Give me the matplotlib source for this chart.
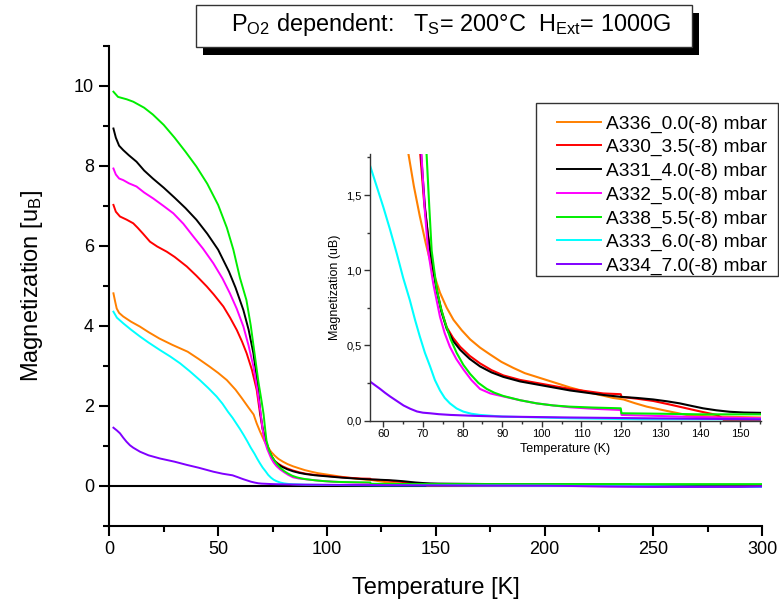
import matplotlib
matplotlib.use("Agg")
import matplotlib.pyplot as plt
from matplotlib.patches import Rectangle
from matplotlib.ticker import MultipleLocator, FixedLocator, FixedFormatter

plt.rcParams['font.family'] = ['Liberation Sans', 'DejaVu Sans']
plt.rcParams['mathtext.fontset'] = 'custom'
plt.rcParams['mathtext.rm'] = 'Liberation Sans'
plt.rcParams['mathtext.it'] = 'Liberation Sans'

# ---- measured M(T) curves (T in K, M in uB) ----
labels = ["A336_0.0(-8) mbar", "A330_3.5(-8) mbar", "A331_4.0(-8) mbar",
          "A332_5.0(-8) mbar", "A338_5.5(-8) mbar", "A333_6.0(-8) mbar",
          "A334_7.0(-8) mbar"]
colors = ["#FF8000", "#FF0000", "#000000", "#FF00FF", "#00EE00", "#00FFFF", "#8000FF"]

t_a336 = [1.9, 2.7, 3.4, 4.5, 6.4, 10, 14, 18, 23, 29, 36, 41, 46, 50, 54, 58, 61, 64,
          66.3, 67.7, 69.2, 70.7, 72.2, 74.3, 76, 77.7, 79.8, 81.9, 84.4, 86.9, 89.8,
          92.8, 95.7, 98.7, 102.9, 107.1, 111.3, 115.5, 118, 120.6, 123.5, 126.5, 129.5,
          132.4, 136.5, 140, 145, 155, 180, 220, 260, 300]
m_a336 = [4.81, 4.60, 4.43, 4.32, 4.23, 4.10, 3.98, 3.84, 3.68, 3.52, 3.35, 3.17, 2.98,
          2.82, 2.64, 2.40, 2.18, 1.95, 1.78, 1.56, 1.36, 1.18, 1.02, 0.85, 0.75, 0.67,
          0.60, 0.54, 0.485, 0.44, 0.39, 0.35, 0.315, 0.29, 0.255, 0.22, 0.19, 0.165,
          0.15, 0.14, 0.115, 0.092, 0.075, 0.059, 0.037, 0.03, 0.026, 0.02, 0.01, 0.0,
          0.0, 0.0]

t_a330 = [1.9, 3, 4.9, 8, 11, 13, 15.5, 18.7, 22, 26.4, 30, 35.6, 40, 44.8, 48, 52.4,
          55.5, 58.6, 61, 63.1, 65.5, 67.7, 69.3, 70.3, 71.2, 72.2, 73.5, 74.7, 76,
          77.6, 79.4, 81.8, 84.4, 87.3, 90.3, 94.5, 98.7, 102.9, 107.1, 111.3, 115.5,
          119.9, 120.1, 124, 128.1, 132, 136.5, 140, 144.1, 145.3, 146, 160, 200, 250, 300]
m_a330 = [7.02, 6.85, 6.73, 6.65, 6.56, 6.45, 6.30, 6.10, 5.98, 5.85, 5.72, 5.48, 5.25,
          4.98, 4.78, 4.48, 4.20, 3.89, 3.60, 3.31, 2.90, 2.40, 1.78, 1.45, 1.25, 1.07,
          0.87, 0.73, 0.62, 0.55, 0.49, 0.43, 0.38, 0.335, 0.30, 0.27, 0.25, 0.23, 0.21,
          0.195, 0.18, 0.175, 0.157, 0.145, 0.13, 0.108, 0.081, 0.06, 0.037, 0.02, 0.0,
          0.0, 0.0, -0.01, 0.0]

t_a331 = [1.9, 3, 4.5, 6.4, 9, 12.5, 16, 20, 25, 30, 35, 40, 45, 50, 55, 58, 61.6, 64,
          66.2, 68, 69.5, 70.5, 71.3, 72.2, 73.5, 74.7, 76, 77.6, 79.4, 81.8, 84.4, 87.3,
          90.3, 94.5, 98.7, 102.9, 107.1, 111.3, 115.5, 119.7, 124, 128.1, 131.5, 134.8,
          137.8, 140.7, 144, 147.4, 151, 155, 180, 239.5, 240.5, 270, 300]
m_a331 = [8.93, 8.70, 8.50, 8.39, 8.26, 8.10, 7.88, 7.68, 7.45, 7.20, 6.94, 6.65, 6.30,
          5.90, 5.35, 4.95, 4.39, 3.90, 3.31, 2.60, 1.78, 1.42, 1.22, 1.07, 0.86, 0.72,
          0.61, 0.53, 0.47, 0.41, 0.36, 0.32, 0.29, 0.26, 0.24, 0.22, 0.20, 0.185, 0.17,
          0.158, 0.15, 0.14, 0.128, 0.114, 0.097, 0.081, 0.068, 0.058, 0.053, 0.051,
          0.04, 0.03, 0.02, 0.02, 0.02]

t_a332 = [1.9, 3, 4.5, 6.4, 9, 12.5, 16, 20.2, 25, 29.4, 34, 38.6, 43, 47.8, 52, 55.4,
          58.5, 61.6, 64, 66.2, 68, 69.6, 70.4, 71.3, 72.6, 74.3, 75.5, 76.8, 78.4, 80.2,
          82.2, 84.4, 87, 90.3, 94.5, 98.7, 102.9, 107.1, 113, 119.9, 120.1, 127, 135,
          145, 155, 200, 230, 270, 300]
m_a332 = [7.93, 7.78, 7.68, 7.64, 7.56, 7.48, 7.33, 7.18, 6.99, 6.81, 6.55, 6.23, 5.93,
          5.56, 5.18, 4.81, 4.43, 3.98, 3.50, 2.98, 2.40, 1.78, 1.42, 1.13, 0.91, 0.69,
          0.58, 0.49, 0.41, 0.34, 0.27, 0.21, 0.18, 0.16, 0.135, 0.114, 0.10, 0.088,
          0.078, 0.07, 0.037, 0.032, 0.026, 0.02, 0.015, 0.0, -0.02, -0.03, -0.02]

t_a338 = [1.9, 4, 8, 11, 16, 20, 25, 30, 35, 40, 45, 50, 54, 57, 60, 63, 65, 67, 68.5,
          70, 70.9, 71.6, 72.2, 73.5, 74.5, 75.6, 77, 78.5, 80.2, 81.9, 84, 86.1, 88,
          90.3, 94.5, 98.7, 102.9, 107.1, 113, 119.9, 120.1, 130, 140, 155, 200, 250, 300]
m_a338 = [9.85, 9.72, 9.66, 9.60, 9.45, 9.28, 9.02, 8.70, 8.35, 7.98, 7.55, 7.02, 6.45,
          5.90, 5.20, 4.64, 4.00, 3.20, 2.60, 2.10, 1.78, 1.42, 1.13, 0.87, 0.75, 0.65,
          0.54, 0.45, 0.37, 0.31, 0.25, 0.21, 0.185, 0.163, 0.135, 0.114, 0.10, 0.092,
          0.086, 0.081, 0.048, 0.045, 0.041, 0.041, 0.04, 0.04, 0.04]

t_a333 = [1.9, 3.5, 6.4, 10, 14.1, 18, 23.3, 28, 32.5, 37, 41.6, 45.5, 49.3, 52, 54.5,
          56.6, 58.3, 60, 61.7, 63.4, 65, 66.7, 68, 69.2, 70.5, 71.8, 73, 74.3, 75.5,
          76.8, 78.5, 80.2, 82.2, 84.4, 90, 100, 107, 125, 155, 200, 260, 300]
m_a333 = [4.35, 4.20, 4.06, 3.90, 3.73, 3.58, 3.39, 3.23, 3.06, 2.86, 2.64, 2.44, 2.23,
          2.05, 1.85, 1.70, 1.56, 1.42, 1.27, 1.11, 0.95, 0.80, 0.67, 0.56, 0.45, 0.36,
          0.27, 0.20, 0.15, 0.114, 0.08, 0.059, 0.045, 0.037, 0.026, 0.02, 0.015, 0.008,
          0.008, 0.0, -0.02, -0.03]

t_a334 = [1.9, 3.5, 4.9, 6.4, 7.9, 9.5, 11, 14.1, 18, 23.3, 30, 35.6, 41, 47.8, 52,
          56.6, 57.9, 59.2, 60.4, 61.7, 63.4, 65.1, 66.8, 68.5, 70, 71.8, 74, 77, 83, 90,
          107, 125, 155, 200, 250, 290, 300]
m_a334 = [1.45, 1.38, 1.31, 1.20, 1.10, 1.01, 0.95, 0.85, 0.76, 0.68, 0.60, 0.52, 0.45,
          0.35, 0.30, 0.26, 0.235, 0.21, 0.185, 0.16, 0.13, 0.10, 0.078, 0.06, 0.052,
          0.048, 0.042, 0.037, 0.031, 0.026, 0.02, 0.015, 0.008, 0.0, -0.03, -0.03, -0.02]

temps = [t_a336, t_a330, t_a331, t_a332, t_a338, t_a333, t_a334]
mags = [m_a336, m_a330, m_a331, m_a332, m_a338, m_a333, m_a334]

main_xticks = [0, 50, 100, 150, 200, 250, 300]
main_yticks = [0, 2, 4, 6, 8, 10]
inset_xticks = [60, 70, 80, 90, 100, 110, 120, 130, 140, 150]
inset_yticks = [0.0, 0.5, 1.0, 1.5]
inset_yticklabels = ["0,0", "0,5", "1,0", "1,5"]

W, H = 779, 605
fig = plt.figure(figsize=(W / 100, H / 100), dpi=100)

# ---- main panel ----
ax = fig.add_axes([109.3 / W, 1 - 525.7 / H, (762.3 - 109.3) / W, (525.7 - 45.7) / H])
handles = []
for t, m, c, lab in zip(temps, mags, colors, labels):
    h, = ax.plot(t, m, color=c, lw=1.4, label=lab, solid_joinstyle='round')
    handles.append(h)
ax.axhline(0, color='black', lw=1.5, zorder=1)
ax.set_xlim(0, 300)
ax.set_ylim(-1, 11)
for s in ('top', 'right'):
    ax.spines[s].set_visible(False)
for s in ('left', 'bottom'):
    ax.spines[s].set_linewidth(1.5)
ax.set_xticks(main_xticks)
ax.set_yticks(main_yticks)
ax.xaxis.set_minor_locator(MultipleLocator(25))
ax.yaxis.set_minor_locator(MultipleLocator(1))
ax.tick_params(which='major', direction='out', length=7, width=1.5, labelsize=13, pad=4)
ax.tick_params(which='minor', direction='out', length=4, width=1.5)
ax.set_xlabel("Temperature [K]", fontsize=17, labelpad=14)
ax.set_ylabel(r"Magnetization [u$_{\rm B}$]", fontsize=17, labelpad=21)

# ---- inset: zoom on the transition ----
axi = fig.add_axes([370 / W, 1 - 420.5 / H, (761 - 370) / W, (420.5 - 154) / H])
axi.patch.set_alpha(0)
for t, m, c in zip(temps, mags, colors):
    axi.plot(t, m, color=c, lw=1.5, solid_joinstyle='round')
axi.set_xlim(56.64, 155.3)
axi.set_ylim(0, 1.773)
for s in ('top', 'right'):
    axi.spines[s].set_visible(False)
for s in ('left', 'bottom'):
    axi.spines[s].set_linewidth(1.0)
    axi.spines[s].set_color('#333333')
axi.xaxis.set_major_locator(FixedLocator(inset_xticks))
axi.xaxis.set_minor_locator(MultipleLocator(5))
axi.yaxis.set_major_locator(FixedLocator(inset_yticks))
axi.yaxis.set_major_formatter(FixedFormatter(inset_yticklabels))
axi.yaxis.set_minor_locator(MultipleLocator(0.25))
axi.tick_params(which='major', direction='out', length=4, width=1, labelsize=8, pad=2,
                color='#333333')
axi.tick_params(which='minor', direction='out', length=2.5, width=1, color='#333333')
axi.set_xlabel("Temperature (K)", fontsize=9, labelpad=3)
axi.set_ylabel("Magnetization (uB)", fontsize=9, labelpad=4)

# ---- legend with its own frame ----
fig.patches.append(Rectangle((536 / W, 1 - 276 / H), (778 - 536) / W, (276 - 103) / H,
                             transform=fig.transFigure, facecolor='white',
                             edgecolor='#333333', lw=1.0, zorder=9))
leg = fig.legend(handles=handles, loc='upper left',
                 bbox_to_anchor=(556.7 / W, 1 - 115 / H), bbox_transform=fig.transFigure,
                 fontsize=13.8, frameon=False, handlelength=2.3, handletextpad=0.27,
                 labelspacing=0.32, borderpad=0, borderaxespad=0)
leg.set_zorder(10)

# ---- title box with drop shadow ----
bx0, by0, bx1, by1 = 196, 5, 692, 47
fig.patches.append(Rectangle(((bx0 + 7) / W, 1 - (by1 + 8) / H), (bx1 - bx0) / W,
                             (by1 - by0) / H, transform=fig.transFigure,
                             facecolor='black', edgecolor='none', zorder=1))
fig.patches.append(Rectangle((bx0 / W, 1 - by1 / H), (bx1 - bx0) / W, (by1 - by0) / H,
                             transform=fig.transFigure, facecolor='white',
                             edgecolor='#333333', lw=1.0, zorder=2))
fig.text(451 / W, 1 - 25 / H,
         r"P$_{\rm O2}$ dependent:   T$_{\rm S}$= 200°C  H$_{\rm Ext}$= 1000G",
         ha='center', va='center', fontsize=16.9, zorder=3)

fig.savefig("out.png", dpi=100)
